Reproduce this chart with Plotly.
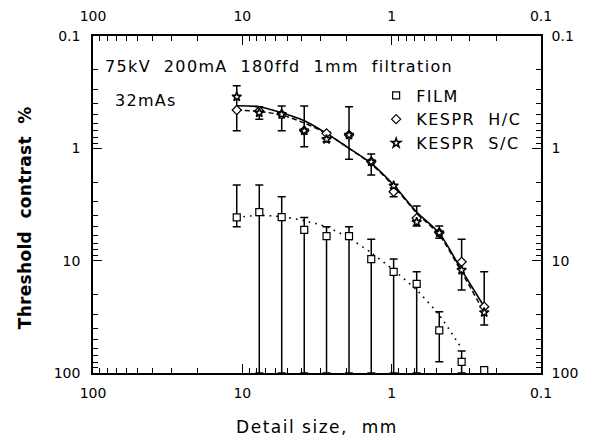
import plotly.graph_objects as go

# ---- data ----
detail_size = [10.9, 7.7, 5.45, 3.85, 2.73, 1.93, 1.37, 0.97, 0.68, 0.48, 0.34, 0.24]

film_y = [4.12, 3.69, 4.09, 5.31, 6.04, 6.04, 9.68, 12.56, 16.06, 41.8, 79.5, 94.2]
film_err_lo = [2.12, 2.12, 2.70, 4.12, 4.99, 4.99, 6.46, 9.68, 12.56, 28.5, 63.8]
film_err_hi = [4.99, 100, 100, 100, 100, 100, 100, 100, 100, 79.5, 100]

hc_y = [0.456, 0.465, 0.498, 0.697, 0.735, 0.761, 1.316, 2.435, 4.18, 5.64, 10.23, 25.7]
sc_y = [0.347, 0.482, 0.498, 0.697, 0.832, 0.761, 1.316, 2.153, 4.53, 5.64, 12.13, 28.9]
k_err_lo = [0.277, 0.426, 0.420, 0.420, 0.712, 0.426, 1.124, 2.257, 3.26, 4.92, 6.46, 12.56]
k_err_hi = [0.697, 0.552, 0.697, 0.968, 0.873, 1.253, 1.729, 2.70, 4.92, 6.33, 18.27, 37.4]

fit_solid = [0.4175, 0.426, 0.482, 0.568, 0.735, 1.0, 1.36, 2.12, 3.69, 5.71, 12.13, 25.7]
fit_dashed = [0.456, 0.47, 0.505, 0.595, 0.74, 1.0, 1.38, 2.17, 3.77, 5.92, 12.64, 28.9]
fit_film_x = detail_size[:11]
fit_film = [4.12, 3.95, 4.06, 4.41, 4.99, 6.29, 8.51, 12.13, 18.27, 30.5, 60.4]

major_ticks = [100, 10, 1, 0.1]
major_text = ["100", "10", "1", "0.1"]
minor_ticks = [m * 10 ** e for e in (-1, 0, 1) for m in range(2, 10)]

FONT = "DejaVu Sans, Verdana, sans-serif"
BLACK = "black"


def spaced(s, px):
    return f'<span style="letter-spacing:{px}px">{s}</span>'


fig = go.Figure()

# fitted curves
fig.add_trace(go.Scatter(x=detail_size, y=fit_solid, mode="lines",
                         line=dict(color=BLACK, width=1.6, shape="spline", smoothing=0.8),
                         showlegend=False, hoverinfo="skip"))
fig.add_trace(go.Scatter(x=detail_size, y=fit_dashed, mode="lines",
                         line=dict(color=BLACK, width=1.4, dash="5px,3px", shape="spline", smoothing=0.8),
                         showlegend=False, hoverinfo="skip"))
fig.add_trace(go.Scatter(x=fit_film_x, y=fit_film, mode="lines",
                         line=dict(color=BLACK, width=1.6, dash="1.6px,5px", shape="spline", smoothing=0.6),
                         showlegend=False, hoverinfo="skip"))

# film error bars (first 11 points)
n = len(film_err_lo)
fig.add_trace(go.Scatter(
    x=detail_size[:n], y=film_y[:n], mode="markers", marker=dict(size=1, color="rgba(0,0,0,0)"),
    error_y=dict(type="data", symmetric=False,
                 array=[h - y for h, y in zip(film_err_hi, film_y[:n])],
                 arrayminus=[y - l for l, y in zip(film_err_lo, film_y[:n])],
                 color=BLACK, thickness=1.5, width=4),
    showlegend=False, hoverinfo="skip"))

# KESPR error bars
fig.add_trace(go.Scatter(
    x=detail_size, y=hc_y, mode="markers", marker=dict(size=1, color="rgba(0,0,0,0)"),
    error_y=dict(type="data", symmetric=False,
                 array=[h - y for h, y in zip(k_err_hi, hc_y)],
                 arrayminus=[y - l for l, y in zip(k_err_lo, hc_y)],
                 color=BLACK, thickness=1.5, width=4),
    showlegend=False, hoverinfo="skip"))

# markers
fig.add_trace(go.Scatter(x=detail_size, y=film_y, mode="markers", name=spaced("FILM", 1.5),
                         marker=dict(symbol="square", size=7, color="white", line=dict(color=BLACK, width=1.2))))
fig.add_trace(go.Scatter(x=detail_size, y=hc_y, mode="markers", name=spaced("KESPR  H/C", 1.5),
                         marker=dict(symbol="diamond", size=7, color="white", line=dict(color=BLACK, width=1.2))))
fig.add_trace(go.Scatter(x=detail_size, y=sc_y, mode="markers", name=spaced("KESPR  S/C", 1.5),
                         marker=dict(symbol="star", size=7, color="white", line=dict(color=BLACK, width=1.5))))

# invisible anchors for the extra (mirror / minor-tick) axes
for xa, ya in (("x2", "y2"), ("x3", "y3"), ("x4", "y4")):
    fig.add_trace(go.Scatter(x=[1], y=[1], xaxis=xa, yaxis=ya, mode="markers",
                             marker=dict(size=1, color="rgba(0,0,0,0)"), showlegend=False, hoverinfo="skip"))

base = dict(type="log", range=[2, -1], autorange=False, automargin=False,
            showgrid=False, zeroline=False, tickcolor=BLACK, ticks="inside")
major = dict(base, tickmode="array", tickvals=major_ticks, ticktext=major_text, ticklen=9, tickwidth=1.2,
             tickfont=dict(family=FONT, size=14, color=BLACK))
minor = dict(base, tickmode="array", tickvals=minor_ticks, ticklen=5, tickwidth=1, showticklabels=False, showline=False)
frame = dict(showline=True, linecolor=BLACK, linewidth=1.6)

fig.update_layout(
    width=595, height=443,
    margin=dict(l=85, r=62, t=28, b=78),
    paper_bgcolor="white", plot_bgcolor="white",
    font=dict(family=FONT, color=BLACK),
    xaxis=dict(major, **frame, anchor="y", ticklabelstandoff=6,
               title=dict(text=spaced("Detail size,  mm", 1.5), font=dict(family=FONT, size=17), standoff=22)),
    xaxis2=dict(major, **frame, overlaying="x", anchor="y", side="top", ticklabelstandoff=8),
    xaxis3=dict(minor, overlaying="x", anchor="y", side="bottom"),
    xaxis4=dict(minor, overlaying="x", anchor="y", side="top"),
    yaxis=dict(major, **frame, anchor="x", ticklabelstandoff=8),
    yaxis2=dict(major, **frame, overlaying="y", anchor="x", side="right", ticklabelstandoff=6),
    yaxis3=dict(minor, overlaying="y", anchor="x", side="left"),
    yaxis4=dict(minor, overlaying="y", anchor="x", side="right"),
    legend=dict(x=0.632, y=0.874, xanchor="left", yanchor="top", bgcolor="rgba(0,0,0,0)",
                font=dict(family=FONT, size=16, color=BLACK), itemwidth=30, tracegroupgap=0),
    annotations=[
        dict(text="<b>" + spaced("Threshold  contrast  %", 0.3) + "</b>", x=-0.152, y=0.462,
             xref="paper", yref="paper", xanchor="center", yanchor="middle", textangle=-90,
             showarrow=False, font=dict(family=FONT, size=17, color=BLACK)),
        dict(text=spaced("75kV  200mA  180ffd  1mm  filtration", 1.35), x=0.022, y=0.91, xref="paper", yref="paper",
             xanchor="left", yanchor="middle", showarrow=False, font=dict(family=FONT, size=16, color=BLACK)),
        dict(text=spaced("32mAs", 1.3), x=0.045, y=0.81, xref="paper", yref="paper",
             xanchor="left", yanchor="middle", showarrow=False, font=dict(family=FONT, size=16, color=BLACK)),
    ],
)

fig.write_html("out.html")
